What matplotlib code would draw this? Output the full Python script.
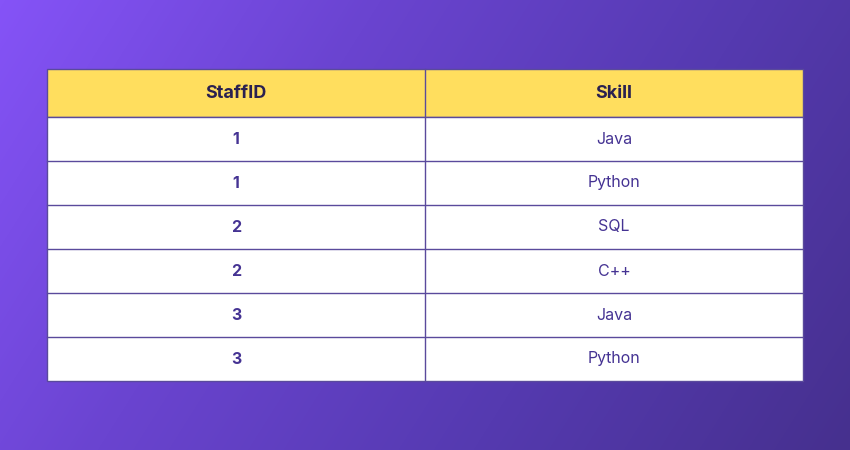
import numpy as np
import matplotlib
matplotlib.use("Agg")
import matplotlib.pyplot as plt
from matplotlib.patches import Rectangle
from matplotlib.colors import LinearSegmentedColormap

headers = ["StaffID", "Skill"]
staff_ids = ["1", "1", "2", "2", "3", "3"]
skills = ["Java", "Python", "SQL", "C++", "Java", "Python"]

W, H = 850, 450
fig = plt.figure(figsize=(W/100, H/100), dpi=100)
ax = fig.add_axes([0, 0, 1, 1])
ax.set_xlim(0, W); ax.set_ylim(H, 0); ax.axis("off")

# gradient background
yy, xx = np.mgrid[0:H, 0:W]
t = (xx / W * 0.75 + yy / H * 0.25)
cmap = LinearSegmentedColormap.from_list("bg", ["#8553F7", "#6A44D0", "#553AB0", "#46308E"])
ax.imshow(t, cmap=cmap, extent=[0, W, H, 0], aspect="auto", zorder=0)

x0, x1, xm = 47, 803, 425
y0, hh, rh = 69, 48, 44
line = "#5A4A9C"
ax.add_patch(Rectangle((x0, y0), x1 - x0, hh, facecolor="#FFDE5E", edgecolor=line, lw=1, zorder=1))
n = len(staff_ids)
ax.add_patch(Rectangle((x0, y0 + hh), x1 - x0, rh * n, facecolor="white", edgecolor=line, lw=1, zorder=1))
for i in range(1, n):
    y = y0 + hh + i * rh
    ax.plot([x0, x1], [y, y], color=line, lw=1, zorder=2)
ax.plot([xm, xm], [y0, y0 + hh + rh * n], color=line, lw=1, zorder=2)

cx = [(x0 + xm) / 2, (xm + x1) / 2]
for c, h in zip(cx, headers):
    ax.text(c, y0 + hh / 2, h, ha="center", va="center", fontsize=13, fontweight="bold",
            color="#2A2150", family="Inter", zorder=3)
for i, (s, k) in enumerate(zip(staff_ids, skills)):
    y = y0 + hh + i * rh + rh / 2
    ax.text(cx[0], y, s, ha="center", va="center", fontsize=11.5, fontweight="bold",
            color="#453393", family="Inter", zorder=3)
    ax.text(cx[1], y, k, ha="center", va="center", fontsize=11.5,
            color="#453393", family="Inter", zorder=3)

fig.savefig("out.png", dpi=100)
